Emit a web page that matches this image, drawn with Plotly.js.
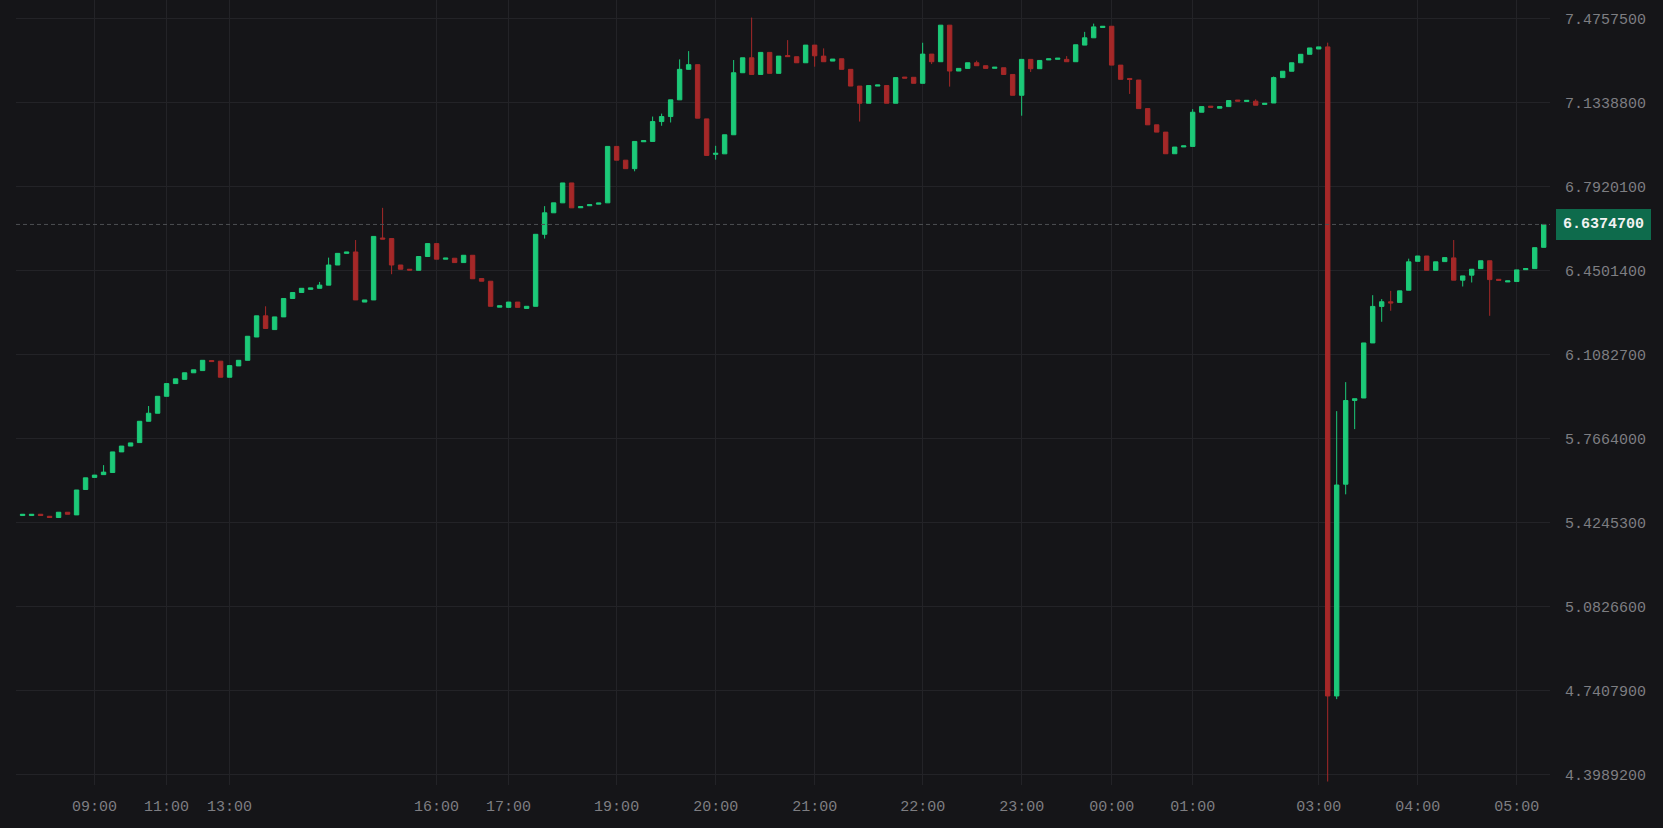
<!DOCTYPE html>
<html>
<head>
<meta charset="utf-8">
<script src="https://cdn.plot.ly/plotly-3.0.1.min.js"></script>
<style>
  html, body { margin: 0; padding: 0; background: #151518; }
  #chart { width: 1663px; height: 828px; }
</style>
</head>
<body>
<div id="chart"></div>
<script>
// ---- data ----
const openP = [5.4537,5.4537,5.4589,5.4507,5.4456,5.4671,5.4563,5.5597,5.6088,5.6200,
5.6286,5.7125,5.7362,5.7504,5.8370,5.8697,5.9386,5.9903,6.0075,6.0342,
6.0432,6.0841,6.0815,6.0161,6.0622,6.0850,6.1797,6.2658,6.2099,6.2615,
6.3364,6.3606,6.3735,6.3778,6.3907,6.4725,6.5199,6.5255,6.3218,6.3304,
6.5823,6.5801,6.4725,6.4553,6.4510,6.5070,6.5595,6.4962,6.5001,6.4824,
6.5121,6.4174,6.4066,6.3011,6.3003,6.3218,6.2960,6.3046,6.5974,6.6848,
6.7253,6.8062,6.7054,6.7136,6.7201,6.7253,6.9548,6.8988,6.8643,6.9737,
6.9750,7.0559,7.0762,7.1442,7.2682,7.2872,7.0667,6.9225,6.9246,7.0021,
7.2544,7.3152,7.2475,7.3371,7.2519,7.3242,7.3195,7.2949,7.3668,7.3220,
7.3018,7.3113,7.2682,7.2002,7.1304,7.2002,7.2023,7.1304,7.2368,7.2359,
7.2114,7.3302,7.2992,7.4478,7.2613,7.2721,7.2949,7.2829,7.2725,7.2747,
7.2475,7.1627,7.3087,7.2708,7.3065,7.3091,7.3087,7.2992,7.3668,7.3965,
7.4383,7.4435,7.2854,7.2312,7.2247,7.1085,7.0426,7.0129,6.9250,6.9526,
6.9548,7.0938,7.1184,7.1102,7.1166,7.1433,7.1377,7.1386,7.1257,7.1313,
7.2346,7.2605,7.2949,7.3294,7.3509,7.3595,4.7200,5.5812,5.9218,5.9317,
6.1556,6.3041,6.3227,6.3205,6.3700,6.4876,6.5091,6.4510,6.4863,6.5014,
6.4109,6.4312,6.4579,6.4897,6.4144,6.4036,6.4053,6.4536,6.4579,6.5444];

const closeP = [5.4589,5.4589,5.4537,5.4456,5.4671,5.4589,5.5575,5.6070,5.6182,5.6303,
5.7125,5.7362,5.7491,5.8370,5.8697,5.9386,5.9903,6.0096,6.0342,6.0462,
6.0850,6.0798,6.0161,6.0634,6.0850,6.1827,6.2658,6.2142,6.2615,6.3364,
6.3606,6.3778,6.3795,6.3907,6.4725,6.5199,6.5255,6.3304,6.3304,6.5888,
6.5780,6.4725,6.4553,6.4518,6.5070,6.5595,6.4962,6.5005,6.4824,6.5121,
6.4165,6.4066,6.3046,6.3067,6.3218,6.3003,6.3046,6.5974,6.6848,6.7253,
6.8062,6.7050,6.7098,6.7179,6.7244,6.9548,6.8988,6.8643,6.9750,6.9780,
7.0559,7.0762,7.1442,7.2682,7.2872,7.0697,6.9182,6.9268,7.0021,7.2544,
7.3152,7.2475,7.3371,7.2519,7.3220,7.3199,7.2949,7.3668,7.3233,7.2992,
7.3100,7.2682,7.2002,7.1304,7.2023,7.2045,7.1304,7.2346,7.2325,7.2114,
7.3302,7.2992,7.4478,7.2613,7.2721,7.2949,7.2829,7.2721,7.2768,7.2475,
7.1627,7.3087,7.2708,7.3044,7.3108,7.3134,7.2992,7.3681,7.3965,7.4409,
7.4435,7.2854,7.2277,7.2269,7.1085,7.0426,7.0129,6.9250,6.9522,6.9569,
7.0938,7.1166,7.1141,7.1166,7.1412,7.1390,7.1421,7.1223,7.1300,7.2346,
7.2605,7.2949,7.3294,7.3552,7.3595,4.7200,5.5778,5.9214,5.9287,6.1556,
6.3041,6.3231,6.3184,6.3674,6.4854,6.5091,6.4510,6.4854,6.5026,6.4109,
6.4282,6.4553,6.4897,6.4131,6.4101,6.4079,6.4527,6.4579,6.5431,6.63747];

// explicit wick extremes (null = body edge)
const highP = [null,null,null,null,null,null,null,null,null,5.6587,
null,null,null,null,5.8990,null,null,null,null,null,
null,null,null,null,null,null,null,6.3046,null,null,
null,null,null,6.4036,6.5026,null,null,6.5741,null,null,
6.7050,null,null,null,null,null,null,null,null,null,
null,null,null,null,null,null,null,null,6.7119,null,
null,null,null,null,null,null,null,null,null,null,
7.0762,7.0882,null,7.3087,7.3423,null,null,6.9573,null,7.3061,
null,7.4788,null,null,null,7.3871,null,null,null,7.3535,
null,null,null,null,null,null,null,null,null,null,
7.3763,null,null,null,null,null,7.3035,null,null,null,
null,null,null,null,null,null,7.3220,null,7.4206,7.4542,
null,null,null,null,null,null,null,null,null,null,
7.1063,null,null,null,null,null,null,7.1464,null,7.2389,
null,null,null,null,null,7.3767,5.8783,5.9963,null,null,
6.3498,6.3339,6.3674,null,6.4983,null,null,null,null,6.5741,
null,null,null,null,null,null,null,null,null,null];

const lowP = [null,null,null,null,null,null,null,null,null,null,
null,null,null,null,null,null,null,null,null,null,
null,null,null,null,null,null,null,null,null,null,
null,null,null,null,null,null,null,null,null,null,
null,6.4350,null,null,null,null,null,null,null,null,
null,null,null,null,null,null,null,null,6.5801,null,
null,null,null,null,null,null,null,null,6.8536,null,
null,7.0387,7.0521,null,null,null,null,6.9009,null,null,
null,null,null,null,null,null,null,null,7.2790,null,
null,null,null,7.0559,null,null,null,null,null,null,
null,7.2897,null,7.1980,null,null,null,null,null,null,
null,7.0796,7.2575,null,null,null,null,null,null,null,
null,null,null,7.1683,null,null,null,null,null,null,
null,null,null,null,null,null,null,null,null,null,
null,null,null,null,null,4.3720,4.7071,5.5399,5.8051,null,
null,6.2417,6.2865,null,null,null,null,null,null,null,
6.3851,6.4015,null,6.2658,null,null,null,null,null,null];

const tickIndex = [8,16,23,46,54,66,77,88,100,111,121,130,144,155,166];
const tickLabels = ['09:00','11:00','13:00','16:00','17:00','19:00','20:00','21:00','22:00','23:00','00:00','01:00','03:00','04:00','05:00'];
const priceTicks = [7.47575,7.13388,6.79201,6.45014,6.10827,5.7664,5.42453,5.08266,4.74079,4.39892];
const lastPrice = 6.63747;

// ---- build ----
const xs = openP.map((_, i) => i);
const highs = openP.map((o, i) => highP[i] != null ? highP[i] : Math.max(o, closeP[i]));
const lows = openP.map((o, i) => lowP[i] != null ? lowP[i] : Math.min(o, closeP[i]));

const GREEN = '#1cc978';
const RED = '#a52828';
const FONT = 'Liberation Mono, DejaVu Sans Mono, monospace';

const trace = {
  type: 'candlestick',
  x: xs, open: openP, high: highs, low: lows, close: closeP,
  increasing: {line: {color: GREEN, width: 1}, fillcolor: GREEN},
  decreasing: {line: {color: RED, width: 1}, fillcolor: RED},
  whiskerwidth: 0,
  hoverinfo: 'skip',
  showlegend: false
};

const layout = {
  width: 1663, height: 828,
  paper_bgcolor: '#151518',
  plot_bgcolor: '#151518',
  margin: {l: 16, r: 113, t: 0, b: 43},
  showlegend: false,
  xaxis: {
    range: [-0.73, 169.7],
    rangeslider: {visible: false},
    tickmode: 'array', tickvals: tickIndex, ticktext: tickLabels,
    showgrid: true, gridcolor: '#232327', gridwidth: 1,
    zeroline: false, showline: false, ticks: '',
    tickfont: {family: FONT, size: 15, color: '#7e7e82'},
    ticklabelstandoff: 10,
    fixedrange: true
  },
  yaxis: {
    side: 'right',
    range: [4.3579, 7.5502],
    tickmode: 'array', tickvals: priceTicks,
    tickformat: '.7f',
    showgrid: true, gridcolor: '#232327', gridwidth: 1,
    zeroline: false, showline: false, ticks: '',
    tickfont: {family: FONT, size: 15, color: '#7e7e82'},
    ticklabelstandoff: 14,
    fixedrange: true
  },
  shapes: [{
    type: 'line', xref: 'paper', x0: 0, x1: 1, yref: 'y', y0: lastPrice, y1: lastPrice,
    line: {color: '#4d4f52', width: 1, dash: '4px,3px'}
  }],
  annotations: [{
    xref: 'paper', x: 1, xanchor: 'left', xshift: 6,
    yref: 'y', y: lastPrice, yanchor: 'middle',
    text: lastPrice.toFixed(7), showarrow: false,
    font: {family: FONT, size: 15, color: '#f2f2f2', weight: 'bold'},
    bgcolor: '#0e6b4c', borderpad: 7, borderwidth: 0
  }]
};

Plotly.newPlot('chart', [trace], layout, {staticPlot: true, displayModeBar: false});
</script>
</body>
</html>
